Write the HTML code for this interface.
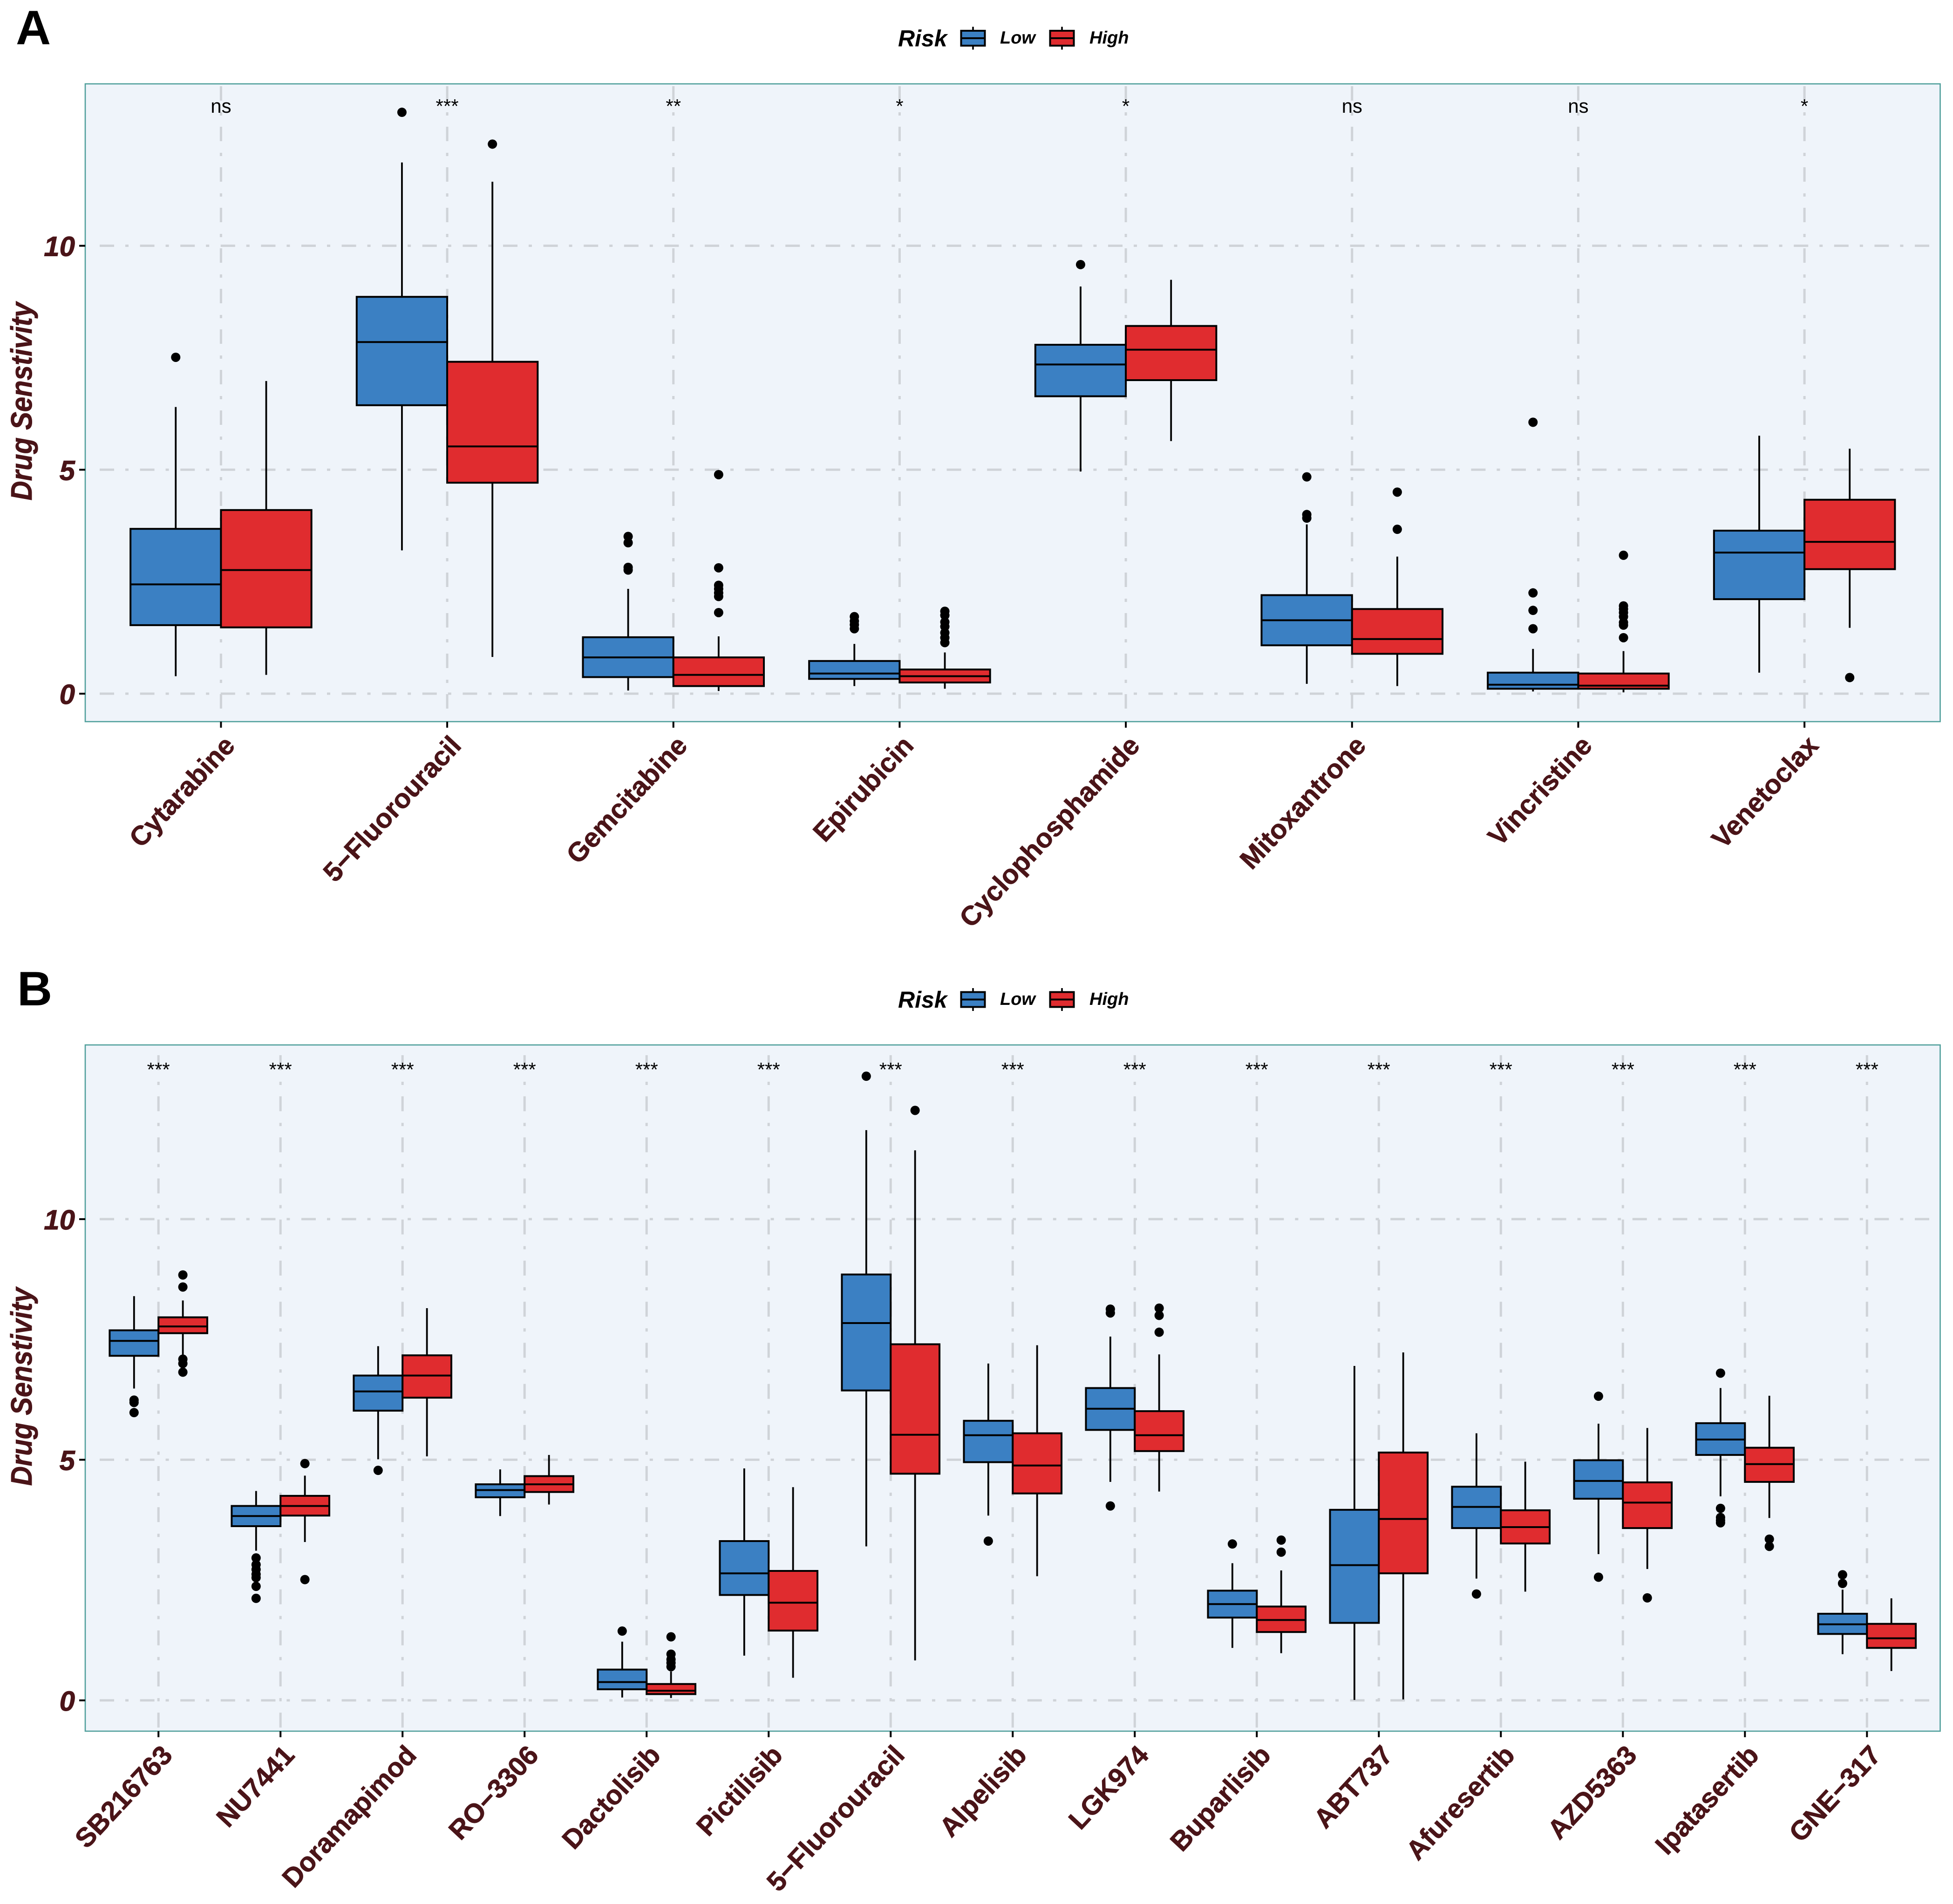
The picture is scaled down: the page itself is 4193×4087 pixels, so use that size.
<!DOCTYPE html>
<html lang="en">
<head>
<meta charset="utf-8">
<title>Drug Sensitivity by Risk Group</title>
<style>
html,body{margin:0;padding:0;background:#fff;}
svg{display:block;text-rendering:geometricPrecision;font-family:"Liberation Sans",Arial,sans-serif;}
</style>
</head>
<body>
<svg id="figure" xmlns="http://www.w3.org/2000/svg" width="4193" height="4087" viewBox="0 0 4193 4087"></svg>
<script>
// ---- Shared ticks ----
const yTicks = [0, 5, 10];
const legendLabels = ['Low', 'High'];

// ---- Panel A data ----
const categoriesA = ['Cytarabine','5\u2212Fluorouracil','Gemcitabine','Epirubicin','Cyclophosphamide','Mitoxantrone','Vincristine','Venetoclax'];
const significanceA = ['ns','***','**','*','*','ns','ns','*'];
const lowWhiskerLoA = [0.39,3.20,0.07,0.17,4.96,0.22,0.05,0.47];
const lowQ1A = [1.53,6.44,0.37,0.33,6.64,1.08,0.11,2.11];
const lowMedianA = [2.44,7.85,0.81,0.45,7.35,1.64,0.20,3.15];
const lowQ3A = [3.68,8.86,1.26,0.73,7.79,2.20,0.47,3.64];
const lowWhiskerHiA = [6.40,11.86,2.34,1.11,9.09,3.78,1.00,5.76];
const lowOutliersA = [[7.51],[12.98],[3.51,3.37,2.82,2.76],[1.72,1.62,1.54,1.45],[9.58],[4.84,4.00,3.92],[6.06,2.25,1.86,1.45],[]];
const highWhiskerLoA = [0.42,0.82,0.06,0.11,5.64,0.17,0.03,1.47];
const highQ1A = [1.48,4.71,0.17,0.25,7.00,0.89,0.11,2.78];
const highMedianA = [2.76,5.52,0.42,0.39,7.68,1.22,0.18,3.39];
const highQ3A = [4.10,7.41,0.81,0.54,8.21,1.89,0.45,4.33];
const highWhiskerHiA = [6.98,11.43,1.28,0.92,9.24,3.06,0.95,5.47];
const highOutliersA = [[],[12.27],[4.89,2.81,2.42,2.34,2.25,2.17,1.81],[1.84,1.75,1.60,1.50,1.36,1.25,1.14],[],[4.50,3.67],[3.09,1.96,1.89,1.81,1.72,1.59,1.53,1.25],[0.36]];

// ---- Panel B data ----
const categoriesB = ['SB216763','NU7441','Doramapimod','RO\u22123306','Dactolisib','Pictilisib','5\u2212Fluorouracil','Alpelisib','LGK974','Buparlisib','ABT737','Afuresertib','AZD5363','Ipatasertib','GNE\u2212317'];
const significanceB = ['***','***','***','***','***','***','***','***','***','***','***','***','***','***','***'];
const lowWhiskerLoB = [6.48,3.11,5.01,3.83,0.06,0.93,3.20,3.84,4.54,1.09,0.01,2.53,3.04,4.24,0.96];
const lowQ1B = [7.16,3.62,6.02,4.22,0.23,2.19,6.44,4.95,5.62,1.72,1.61,3.58,4.19,5.10,1.38];
const lowMedianB = [7.47,3.83,6.42,4.37,0.38,2.64,7.84,5.51,6.06,2.00,2.81,4.02,4.56,5.42,1.58];
const lowQ3B = [7.69,4.04,6.75,4.49,0.64,3.31,8.85,5.81,6.49,2.28,3.96,4.44,4.99,5.76,1.80];
const lowWhiskerHiB = [8.40,4.35,7.36,4.80,1.22,4.82,11.85,7.00,7.56,2.85,6.95,5.55,5.75,6.49,2.30];
const lowOutliersB = [[6.24,6.19,5.98],[2.96,2.82,2.72,2.62,2.55,2.37,2.12],[4.78],[],[1.44],[],[12.97],[3.31],[8.13,8.05,4.04],[3.25],[],[2.21],[6.32,2.56],[6.80,3.99,3.80,3.74,3.69],[2.61,2.43]];
const highWhiskerLoB = [7.16,3.29,5.07,4.07,0.05,0.47,0.83,2.58,4.34,0.98,0.02,2.26,2.73,3.79,0.61];
const highQ1B = [7.63,3.84,6.29,4.33,0.13,1.45,4.71,4.30,5.18,1.42,2.64,3.26,3.58,4.54,1.09];
const highMedianB = [7.77,4.04,6.75,4.49,0.20,2.03,5.52,4.88,5.51,1.67,3.77,3.60,4.11,4.91,1.29];
const highQ3B = [7.96,4.25,7.17,4.66,0.34,2.69,7.40,5.55,6.01,1.95,5.15,3.95,4.53,5.25,1.59];
const highWhiskerHiB = [8.31,4.67,8.15,5.10,0.60,4.43,11.43,7.38,7.19,2.70,7.23,4.96,5.66,6.33,2.12];
const highOutliersB = [[8.84,8.59,7.09,7.00,6.82],[4.92,2.51],[],[],[1.32,0.96,0.85,0.78,0.70],[],[12.26],[],[8.15,8.00,7.65],[3.33,3.08],[],[],[2.13],[3.35,3.20],[]];

// ---- Reference value used to place significance labels ----
const significanceLevel = [12.97];

// ---- Style constants ----
const INK = '#4a1418';
const BLUE = '#3b80c3';
const RED = '#e02c2f';
const GRID = '#cfd3d8';
const BORDER = '#4f9f9b';
const PANEL_BG = '#eff4fa';

const svg = document.getElementById('figure');
const NS = 'http://www.w3.org/2000/svg';

function make(tag, attrs, parent) {
  const node = document.createElementNS(NS, tag);
  for (const key in attrs) node.setAttribute(key, attrs[key]);
  (parent || svg).appendChild(node);
  return node;
}

function drawBox(group, cx, halfW, s, xScale, yScale, fill, seriesName) {
  const g = make('g', {}, group);
  
  

  const whisker = make('line', {x1: cx, x2: cx, y1: yScale(s.lo), y2: yScale(s.hi), stroke: '#000', 'stroke-width': 3.8}, g);
  
  

  const box = make('rect', {x: cx - halfW, y: yScale(s.q3), width: 2 * halfW, height: yScale(s.q1) - yScale(s.q3), fill: fill, stroke: '#000', 'stroke-width': 4}, g);
  
  

  const median = make('line', {x1: cx - halfW, x2: cx + halfW, y1: yScale(s.med), y2: yScale(s.med), stroke: '#000', 'stroke-width': 4}, g);
  
  

  s.out.forEach(function (v) {
    const dot = make('circle', {cx: cx, cy: yScale(v), r: 10, fill: '#000'}, g);
    
    
  });
}

function drawLegend(dy, id) {
  const g = make('g', {});
  
  

  const title = make('text', {x: 1928, y: 2163 - dy, 'font-size': 50, 'font-weight': 700, 'font-style': 'italic', fill: '#000'}, g);
  title.textContent = 'Risk';
  
  

  const keyX = [2089, 2280];
  const labelX = [2147, 2339];
  const fills = [BLUE, RED];
  legendLabels.forEach(function (lab, i) {
    const entry = make('g', {}, g);
    
    

    const wh = make('line', {x1: keyX[i], x2: keyX[i], y1: 2121 - dy, y2: 2170 - dy, stroke: '#000', 'stroke-width': 3.6}, entry);
    
    

    const rc = make('rect', {x: keyX[i] - 25.5, y: 2129.5 - dy, width: 51, height: 32, fill: fills[i], stroke: '#000', 'stroke-width': 4}, entry);
    
    

    const md = make('line', {x1: keyX[i] - 25.5, x2: keyX[i] + 25.5, y1: 2145.5 - dy, y2: 2145.5 - dy, stroke: '#000', 'stroke-width': 4}, entry);
    
    

    const tx = make('text', {x: labelX[i], y: 2157 - dy, 'font-size': 38, 'font-weight': 700, 'font-style': 'italic', fill: '#000'}, entry);
    tx.textContent = lab;
    
    
  });
}

function drawPanel(p) {
  const g = make('g', {});
  
  

  const n = p.cats.length;
  const band = (p.right - p.left) / (n + 0.2);
  const xScale = function (i) { return p.left + band * (0.6 + i); };
  const unit = (p.bottom - p.top) / (p.yMax - p.yMin);
  const yScale = function (v) { return p.bottom - (v - p.yMin) * unit; };

  const letter = make('text', {x: p.letterX, y: p.letterY, 'font-size': 104, 'font-weight': 700, fill: '#000'}, g);
  letter.textContent = p.id.toUpperCase();
  
  

  const bg = make('rect', {x: p.left, y: p.top, width: p.right - p.left, height: p.bottom - p.top, fill: PANEL_BG, stroke: 'none'}, g);
  
  

  yTicks.forEach(function (t) {
    const grid = make('line', {x1: 214, x2: 4151, y1: yScale(t), y2: yScale(t), stroke: GRID, 'stroke-width': 5, 'stroke-dasharray': '31 24 7 24.6'}, g);
    
    
  });
  p.cats.forEach(function (c, i) {
    const grid = make('line', {x1: xScale(i), x2: xScale(i), y1: p.gridStart, y2: p.gridEnd, stroke: GRID, 'stroke-width': 5, 'stroke-dasharray': p.gridDash}, g);
    
    
  });

  const halfW = 0.2 * band;
  p.cats.forEach(function (c, i) {
    const low = {lo: p.lowLo[i], q1: p.lowQ1[i], med: p.lowMed[i], q3: p.lowQ3[i], hi: p.lowHi[i], out: p.lowOut[i]};
    const high = {lo: p.highLo[i], q1: p.highQ1[i], med: p.highMed[i], q3: p.highQ3[i], hi: p.highHi[i], out: p.highOut[i]};
    drawBox(g, xScale(i) - halfW, halfW, low, xScale, yScale, BLUE, 'low');
    drawBox(g, xScale(i) + halfW, halfW, high, xScale, yScale, RED, 'high');
  });

  p.sig.forEach(function (s, i) {
    const label = make('text', {x: xScale(i), y: yScale(significanceLevel[0]), 'font-size': 42, 'text-anchor': 'middle', fill: '#000'}, g);
    label.textContent = s;
    
    
  });

  const frame = make('rect', {x: p.left, y: p.top, width: p.right - p.left, height: p.bottom - p.top, fill: 'none', stroke: BORDER, 'stroke-width': 2.6}, g);
  
  

  yTicks.forEach(function (t) {
    const tick = make('line', {x1: p.left - 13, x2: p.left, y1: yScale(t), y2: yScale(t), stroke: '#000', 'stroke-width': 4}, g);
    
    
    const label = make('text', {x: 161, y: yScale(t) + 22, 'font-size': 60, 'font-weight': 700, 'font-style': 'italic', 'text-anchor': 'end', fill: INK, stroke: INK, 'stroke-width': 1}, g);
    label.textContent = t;
    
    
  });

  p.cats.forEach(function (c, i) {
    const tick = make('line', {x1: xScale(i), x2: xScale(i), y1: p.bottom, y2: p.bottom + 13, stroke: '#000', 'stroke-width': 4}, g);
    
    
    const ax = xScale(i) + 33, ay = p.bottom + 54;
    const label = make('text', {x: ax, y: ay, transform: 'rotate(-47 ' + ax + ' ' + ay + ')', 'font-size': 58, 'font-weight': 700, 'text-anchor': 'end', fill: INK, stroke: INK, 'stroke-width': 0.8}, g);
    label.textContent = c;
    
    
  });

  const tx = 68, ty = (p.top + p.bottom) / 2 - 3;
  const yTitle = make('text', {x: 0, y: 0, transform: 'translate(' + tx + ' ' + ty + ') rotate(-90) scale(1 1.1)', 'font-size': 58, 'font-weight': 700, 'font-style': 'italic', 'text-anchor': 'middle', fill: INK, stroke: INK, 'stroke-width': 0.8}, g);
  yTitle.textContent = 'Drug Senstivity';
  
  
}

drawPanel({
  id: 'a', left: 183, right: 4165.5, top: 180, bottom: 1549, yMin: -0.624, yMax: 13.615,
  letterX: 34, letterY: 95, gridStart: 185, gridEnd: 1546, gridDash: '31 25 7 24',
  cats: categoriesA, sig: significanceA,
  lowLo: lowWhiskerLoA, lowQ1: lowQ1A, lowMed: lowMedianA, lowQ3: lowQ3A, lowHi: lowWhiskerHiA, lowOut: lowOutliersA,
  highLo: highWhiskerLoA, highQ1: highQ1A, highMed: highMedianA, highQ3: highQ3A, highHi: highWhiskerHiA, highOut: highOutliersA
});
drawPanel({
  id: 'b', left: 183, right: 4165.5, top: 2243, bottom: 3716, yMin: -0.64, yMax: 13.62,
  letterX: 37, letterY: 2158, gridStart: 2265, gridEnd: 3710, gridDash: '32 25 7 24.2',
  cats: categoriesB, sig: significanceB,
  lowLo: lowWhiskerLoB, lowQ1: lowQ1B, lowMed: lowMedianB, lowQ3: lowQ3B, lowHi: lowWhiskerHiB, lowOut: lowOutliersB,
  highLo: highWhiskerLoB, highQ1: highQ1B, highMed: highMedianB, highQ3: highQ3B, highHi: highWhiskerHiB, highOut: highOutliersB
});
drawLegend(2063.5, 'a');
drawLegend(0, 'b');
</script>
</body>
</html>
